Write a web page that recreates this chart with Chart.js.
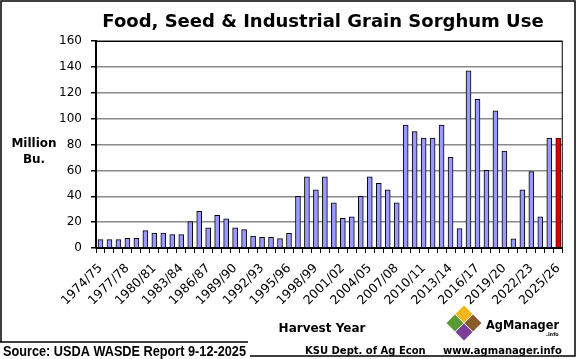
<!DOCTYPE html>
<html>
<head>
<meta charset="utf-8">
<script src="https://cdn.jsdelivr.net/npm/chart.js@4"></script>
<style>
  body { margin: 0; background: #fff; }
  canvas { display: block; }
</style>
</head>
<body>
<canvas id="sorghum" width="577" height="359"></canvas>
<script>
var years = ['1974/75','1975/76','1976/77','1977/78','1978/79','1979/80','1980/81','1981/82','1982/83','1983/84',
  '1984/85','1985/86','1986/87','1987/88','1988/89','1989/90','1990/91','1991/92','1992/93','1993/94',
  '1994/95','1995/96','1996/97','1997/98','1998/99','1999/00','2000/01','2001/02','2002/03','2003/04',
  '2004/05','2005/06','2006/07','2007/08','2008/09','2009/10','2010/11','2011/12','2012/13','2013/14',
  '2014/15','2015/16','2016/17','2017/18','2018/19','2019/20','2020/21','2021/22','2022/23','2023/24',
  '2024/25','2025/26'];

var fsiUse = [6.5, 6.5, 6.5, 7.5, 7.5, 13.4, 11.6, 11.6, 10.3, 10.3,
  20.4, 28.4, 15.5, 25.3, 22.5, 15.5, 14.2, 9.3, 8.3, 8.3,
  7.2, 11.4, 40, 55, 45, 55, 35, 23, 24, 40,
  55, 50, 45, 35, 95, 90, 85, 85, 95, 70,
  15, 137, 115, 60, 106, 75, 7, 45, 59, 24,
  85, 85];

var yTicks = [0, 20, 40, 60, 80, 100, 120, 140, 160];

var barFill = fsiUse.map(function(v, i){ return i === fsiUse.length - 1 ? '#e00000' : '#9999ff'; });
var barLine = fsiUse.map(function(v, i){ return i === fsiUse.length - 1 ? '#600000' : '#000000'; });

// extra text, frame and logo
var decor = {
  id: 'decor',
  afterDraw: function(chart){
    var c = chart.ctx, a = chart.chartArea;
    c.save();
    // plot frame
    c.strokeStyle = '#000';
    c.lineWidth = 1;
    c.strokeRect(a.left + 0.5, a.top + 0.5, a.right - a.left - 1, a.bottom - a.top);

    // outer frame
    c.lineWidth = 1.5;
    c.beginPath();
    c.moveTo(1, 342); c.lineTo(1, 1); c.lineTo(575, 1); c.lineTo(575, 356); c.lineTo(250, 356);
    c.moveTo(0, 342); c.lineTo(248, 342);
    c.stroke();

    c.fillStyle = '#000';
    c.textAlign = 'center';
    c.textBaseline = 'alphabetic';
    c.font = 'bold 18px "DejaVu Sans"';
    c.fillText('Food, Seed & Industrial Grain Sorghum Use', 323, 27, 448);

    c.font = 'bold 12px "DejaVu Sans"';
    c.fillText('Million', 34, 147);
    c.fillText('Bu.', 34, 163);
    c.fillText('Harvest Year', 322, 332);

    c.textAlign = 'left';
    c.font = 'bold 15px "Liberation Sans"';
    c.fillText('Source: USDA WASDE Report 9-12-2025', 3, 356, 243);

    c.font = 'bold 10px "DejaVu Sans"';
    c.fillText('KSU Dept. of Ag Econ', 305, 354, 128);
    c.fillText('www.agmanager.info', 443, 354, 131);

    // logo
    function diamond(x, y, r, col){
      c.fillStyle = col;
      c.beginPath();
      c.moveTo(x, y - r); c.lineTo(x + r, y); c.lineTo(x, y + r); c.lineTo(x - r, y);
      c.closePath();
      c.fill();
    }
    diamond(464, 314, 8.5, '#f2b51c');
    diamond(455, 323, 8.5, '#5a9a32');
    diamond(473, 323, 8.5, '#8a5a2b');
    diamond(464, 332, 8.5, '#7b3f98');
    c.fillStyle = '#000';
    c.font = 'bold 13px "DejaVu Sans"';
    c.fillText('AgManager', 486, 329, 73);
    c.font = 'bold 5px "DejaVu Sans"';
    c.fillText('.info', 546, 336);
    c.restore();
  }
};

var myChart = new Chart(document.getElementById('sorghum'), {
  type: 'bar',
  data: {
    labels: years,
    datasets: [{
      data: fsiUse,
      backgroundColor: barFill,
      borderColor: barLine,
      borderWidth: 1,
      barThickness: 5
    }]
  },
  options: {
    responsive: false,
    animation: false,
    layout: { padding: { left: 0, top: 41, right: 13, bottom: 0 } },
    plugins: {
      legend: { display: false },
      tooltip: { enabled: false }
    },
    scales: {
      x: {
        afterFit: function(s){ s.height = 111; },
        grid: { drawOnChartArea: false, drawTicks: true, tickLength: 5, tickColor: '#000', offset: true },
        border: { color: '#000', width: 1.5 },
        ticks: {
          autoSkip: false,
          minRotation: 45,
          maxRotation: 45,
          padding: 8,
          color: '#000',
          font: { family: 'DejaVu Sans', size: 12.5 },
          callback: function(v, i){ return i % 3 === 0 ? years[i] : ''; }
        }
      },
      y: {
        min: 0,
        max: 160,
        afterFit: function(s){ s.width = 96; },
        afterBuildTicks: function(s){ s.ticks = yTicks.map(function(v){ return { value: v }; }); },
        grid: { color: '#8a8a8a', lineWidth: 1.5, tickLength: 5, tickColor: '#000' },
        border: { color: '#000', width: 2 },
        ticks: {
          padding: 9,
          color: '#000',
          font: { family: 'DejaVu Sans', size: 12 }
        }
      }
    }
  },
  plugins: [decor]
});
</script>
</body>
</html>
